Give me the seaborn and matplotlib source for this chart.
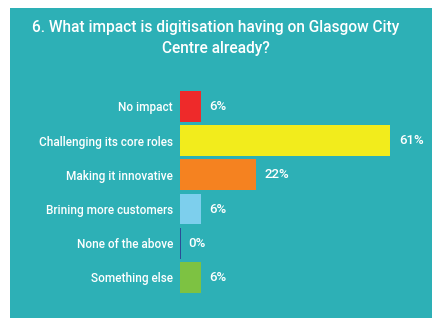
import matplotlib
matplotlib.use("Agg")
import matplotlib.pyplot as plt
import seaborn as sns
import pandas as pd
from matplotlib.patches import Rectangle

# Données du graphique
categories = ["No impact", "Challenging its core roles", "Making it innovative",
              "Brining more customers", "None of the above", "Something else"]
values = [6, 61, 22, 6, 0, 6]
labels = ["6%", "61%", "22%", "6%", "0%", "6%"]
colors = ["#EE2A2A", "#F2EC1C", "#F58220", "#7DCFED", "#2B3990", "#7DC242"]
title = "6. What impact is digitisation having on Glasgow City\nCentre already?"

teal = "#2DB0B6"

sns.set_style("white")
plt.rcParams["font.family"] = ["Roboto", "DejaVu Sans"]

df = pd.DataFrame({"Category": categories, "Value": values})

fig = plt.figure(figsize=(4.32, 3.18), dpi=100)
fig.patch.set_facecolor("white")
# panneau turquoise
fig.patches.append(Rectangle((10 / 432, 0), 422 / 432, 310 / 318,
                             transform=fig.transFigure, facecolor=teal,
                             edgecolor="none", zorder=-1))

ax = fig.add_axes([180 / 432, 0.0736, 240 / 432, 0.7192 - 0.0736])
ax.set_zorder(1)
ax.set_facecolor("none")
sns.barplot(data=df, x="Value", y="Category", hue="Category", palette=colors,
            legend=False, width=0.9, saturation=1, linewidth=0, ax=ax)

# la barre à 0% : un simple trait bleu foncé
for patch, v, c in zip(ax.patches, values, colors):
    if v == 0:
        patch.set_edgecolor(c)
        patch.set_linewidth(1.2)

ax.set_xlim(0, 240 / 3.44)
ax.set_ylim(5.5, -0.5)
for i, (v, lab) in enumerate(zip(values, labels)):
    ax.annotate(lab, (v, i), xytext=(8 if v == 0 else 9, 0),
                textcoords="offset pixels", va="center", ha="left",
                color="white", fontsize=9.5, fontweight="medium")

ax.set_xlabel("")
ax.set_ylabel("")
ax.set_xticks([])
ax.tick_params(axis="y", length=0, pad=5, labelsize=8.5, labelcolor="white")
for t in ax.get_yticklabels():
    t.set_fontweight("medium")
sns.despine(ax=ax, left=True, bottom=True)

fig.text(0.5, 1 - 38 / 318, title, ha="center", va="center", color="white",
         fontsize=11.2, fontweight="medium", linespacing=1.5)

fig.savefig("out.png", dpi=100)
